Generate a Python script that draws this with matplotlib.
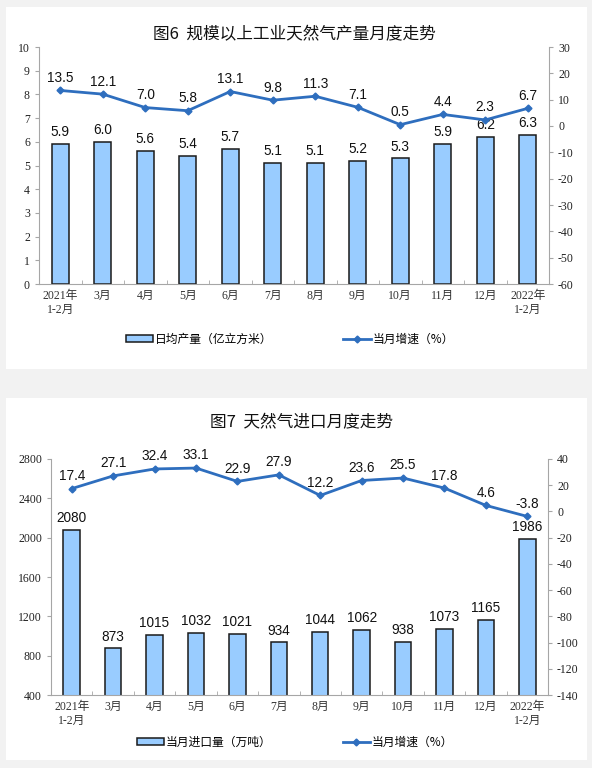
import matplotlib.pyplot as plt
from matplotlib.patches import Rectangle
from matplotlib.ticker import FixedLocator
import numpy as np

plt.rcParams['font.family'] = ['Liberation Serif', 'Noto Sans CJK SC', 'DejaVu Sans']
plt.rcParams['axes.unicode_minus'] = False

months = ['2021年\n1-2月', '3月', '4月', '5月', '6月', '7月', '8月',
          '9月', '10月', '11月', '12月', '2022年\n1-2月']

# 图6 天然气产量
gas_output = [5.9, 6.0, 5.6, 5.4, 5.7, 5.1, 5.1, 5.2, 5.3, 5.9, 6.2, 6.3]
gas_output_growth = [13.5, 12.1, 7.0, 5.8, 13.1, 9.8, 11.3, 7.1, 0.5, 4.4, 2.3, 6.7]

# 图7 天然气进口
gas_import = [2080, 873, 1015, 1032, 1021, 934, 1044, 1062, 938, 1073, 1165, 1986]
gas_import_growth = [17.4, 27.1, 32.4, 33.1, 22.9, 27.9, 12.2, 23.6, 25.5, 17.8, 4.6, -3.8]

W, H = 592, 768
BAR_FC = '#99CCFF'
LINE_C = '#2E6EBE'
SPINE_C = '#A6A6A6'
SANS = ['Liberation Sans', 'Noto Sans CJK SC']
CJK = ['Noto Sans CJK SC', 'DejaVu Sans']

fig = plt.figure(figsize=(W / 100, H / 100), dpi=100, facecolor='#F2F2F2')

# white panels
for (x0, y0, x1, y1) in [(6, 7, 587, 369), (6, 398, 587, 760)]:
    fig.add_artist(Rectangle((x0 / W, 1 - y1 / H), (x1 - x0) / W, (y1 - y0) / H,
                             transform=fig.transFigure, facecolor='white',
                             edgecolor='none', zorder=0))


def px_axes(l, t, r, b):
    return fig.add_axes([l / W, 1 - b / H, (r - l) / W, (b - t) / H])


def draw_panel(ax, bars, growth, ylim, yticks, y2lim, y2ticks, bar_fmt, title,
               title_xy, bar_label, legend_xy):
    x = np.arange(len(months))
    ax.set_facecolor('none')
    ax.bar(x, bars, width=0.4, color=BAR_FC, edgecolor='#1A1A1A', linewidth=1.1,
           zorder=2, label=bar_label)
    ax.set_xlim(-0.5, len(months) - 0.5)
    ax.set_ylim(*ylim)
    ax.set_yticks(yticks)
    ax.set_xticks(x)
    ax.set_xticklabels(months, fontsize=8.5, linespacing=1.25)
    ax.xaxis.set_minor_locator(FixedLocator(np.arange(0.5, len(months) - 1, 1)))
    ax.tick_params(axis='x', which='major', length=0, pad=4, colors='#333333')
    ax.tick_params(axis='x', which='minor', length=3, direction='in', color=SPINE_C)
    ax.tick_params(axis='y', length=3, color=SPINE_C, labelsize=8.5, labelcolor='#222222')
    for s in ['top', 'right']:
        ax.spines[s].set_visible(False)
    for s in ['left', 'bottom']:
        ax.spines[s].set_color(SPINE_C)
    for xi, v in zip(x, bars):
        ax.annotate(bar_fmt.format(v), (xi, v), xytext=(0, 3.5), textcoords='offset points',
                    ha='center', va='bottom', fontsize=9.8, family=SANS, color='#111111')

    ax2 = ax.twinx()
    ax2.plot(x, growth, color=LINE_C, linewidth=2, marker='D', markersize=3.5,
             zorder=3, label='当月增速（%）')
    ax2.set_ylim(*y2lim)
    ax2.set_yticks(y2ticks)
    ax2.tick_params(axis='y', length=3, color=SPINE_C, labelsize=8.5, labelcolor='#222222')
    for s in ['top', 'left', 'bottom']:
        ax2.spines[s].set_visible(False)
    ax2.spines['right'].set_color(SPINE_C)
    for xi, v in zip(x, growth):
        ax2.annotate('{:.1f}'.format(v), (xi, v), xytext=(0, 4), textcoords='offset points',
                     ha='center', va='bottom', fontsize=9.8, family=SANS, color='#111111')

    fig.text(title_xy[0] / W, 1 - title_xy[1] / H, title, ha='center', va='center',
             fontsize=12, family=CJK, fontweight='medium', color='#111111')

    h1, l1 = ax.get_legend_handles_labels()
    h2, l2 = ax2.get_legend_handles_labels()
    fig.legend(h1 + h2, l1 + l2, loc='center', ncol=2,
               bbox_to_anchor=(legend_xy[0] / W, 1 - legend_xy[1] / H),
               frameon=False, prop={'family': CJK, 'size': 8.5},
               handlelength=2.3, handleheight=0.6, handletextpad=0.2,
               columnspacing=6.0, numpoints=1)


ax_a = px_axes(39, 47, 549, 284)
draw_panel(ax_a, gas_output, gas_output_growth, (0, 10), range(0, 11),
           (-60, 30), range(-60, 31, 10), '{:.1f}',
           '图6  规模以上工业天然气产量月度走势', (294, 35),
           '日均产量（亿立方米）', (290, 339))

ax_b = px_axes(51, 459, 548, 695)
draw_panel(ax_b, gas_import, gas_import_growth, (400, 2800), range(400, 2801, 400),
           (-140, 40), range(-140, 41, 20), '{:d}',
           '图7  天然气进口月度走势', (301, 423),
           '当月进口量（万吨）', (295, 742))

fig.savefig('out.png', dpi=100, facecolor=fig.get_facecolor())
